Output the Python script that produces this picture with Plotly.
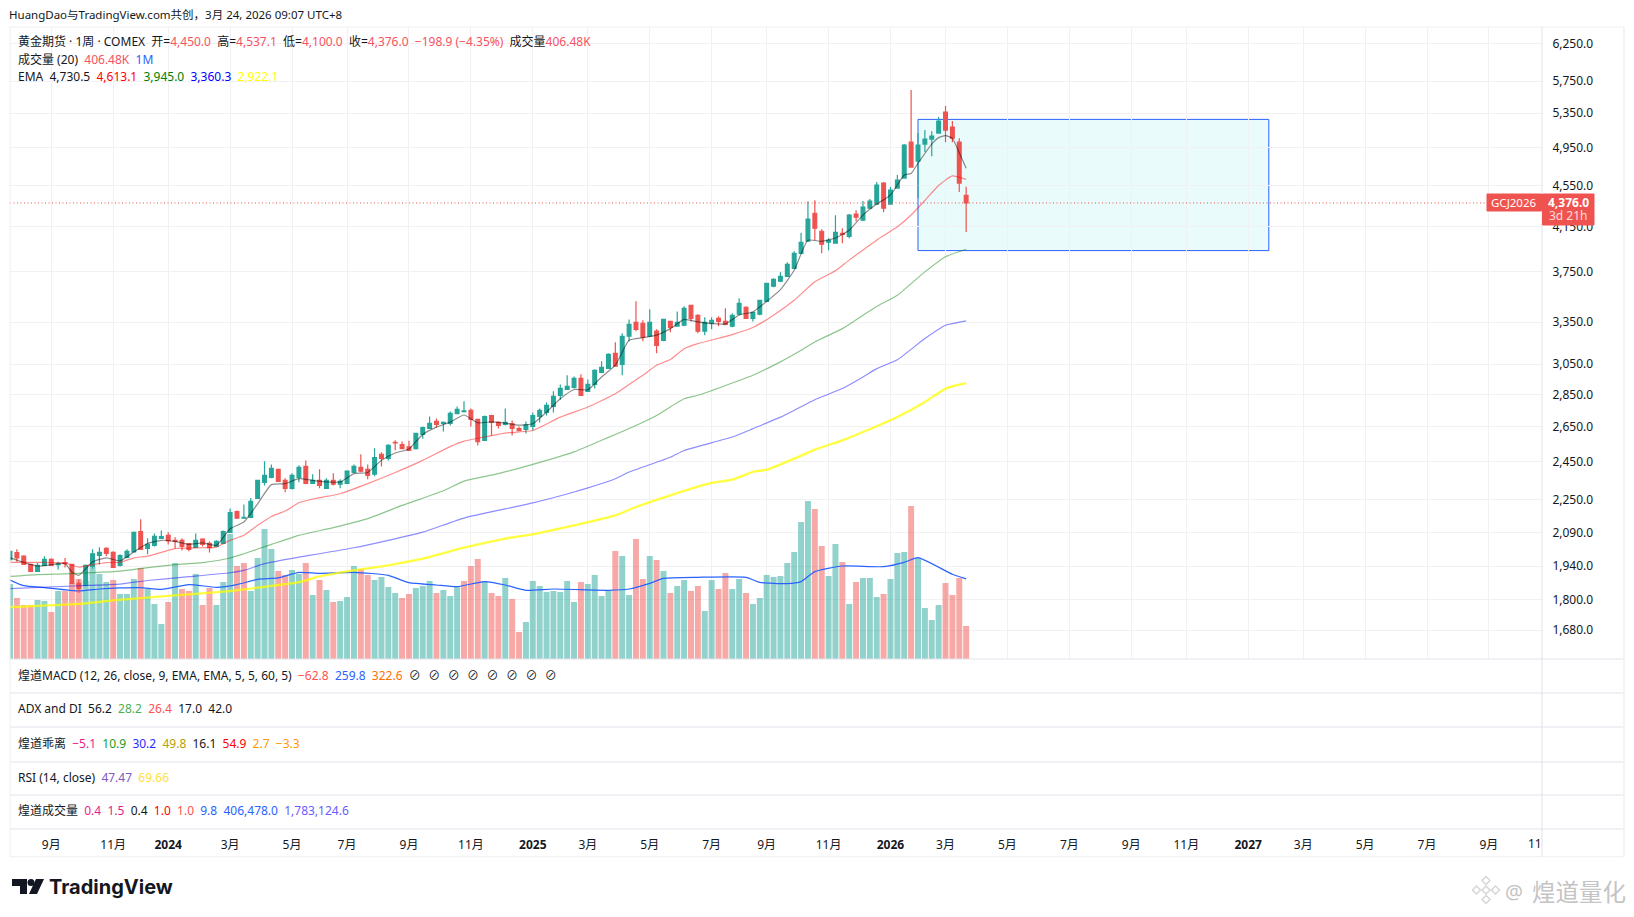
import pandas as pd
import plotly.graph_objects as go

W = 1634
H = 917
FONT = "Noto Sans, Noto Sans CJK SC, sans-serif"

dates = pd.date_range("2023-07-24", periods=140, freq="W-MON")

opens = [
    1968, 1999, 1983, 1947, 1917, 1943, 1969, 1946, 1955, 1947,
    1866, 1857, 1938, 1987, 2018, 2000, 1943, 1978, 2002, 2096,
    2018, 2032, 2064, 2078, 2055, 2055, 2040, 2023, 2060, 2041,
    2027, 2041, 2092, 2192, 2159, 2163, 2257, 2340, 2366, 2409,
    2350, 2309, 2366, 2425, 2335, 2350, 2309, 2350, 2330, 2335,
    2393, 2420, 2409, 2383, 2492, 2469, 2560, 2547, 2534, 2524,
    2605, 2640, 2682, 2670, 2670, 2729, 2741, 2749, 2694, 2570,
    2718, 2676, 2664, 2668, 2640, 2634, 2652, 2712, 2737, 2774,
    2843, 2881, 2894, 2954, 2869, 2914, 2994, 3021, 3124, 3048,
    3246, 3349, 3342, 3246, 3283, 3217, 3356, 3320, 3327, 3479,
    3402, 3283, 3342, 3379, 3356, 3320, 3410, 3464, 3379, 3410,
    3510, 3631, 3672, 3713, 3780, 3909, 4016, 4276, 4107, 4007,
    3998, 4088, 4061, 4268, 4211, 4325, 4365, 4575, 4365, 4524,
    4627, 5015, 4806, 4993, 5049, 5118, 5365, 5187, 5015, 4450,
]
highs = [
    2005, 2014, 1987, 1947, 1953, 1983, 1974, 1958, 1975, 1950,
    1882, 1947, 2014, 2023, 2023, 2005, 1992, 2014, 2096, 2154,
    2064, 2087, 2101, 2092, 2069, 2064, 2043, 2087, 2064, 2049,
    2055, 2101, 2207, 2197, 2227, 2259, 2354, 2453, 2436, 2409,
    2361, 2388, 2431, 2458, 2383, 2409, 2361, 2388, 2356, 2404,
    2436, 2492, 2436, 2525, 2503, 2548, 2572, 2564, 2568, 2613,
    2652, 2712, 2700, 2682, 2743, 2774, 2806, 2761, 2694, 2718,
    2722, 2682, 2761, 2688, 2652, 2682, 2737, 2761, 2799, 2869,
    2914, 2974, 2967, 2981, 2947, 3014, 3069, 3124, 3202, 3268,
    3371, 3510, 3364, 3448, 3297, 3371, 3356, 3432, 3472, 3479,
    3410, 3387, 3387, 3394, 3456, 3418, 3534, 3472, 3425, 3518,
    3655, 3696, 3746, 3831, 3927, 4093, 4393, 4403, 4125, 4043,
    4258, 4135, 4268, 4305, 4394, 4414, 4586, 4586, 4535, 4658,
    4993, 5636, 5118, 5152, 5140, 5305, 5438, 5257, 5060, 4537.1,
]
lows = [
    1962, 1958, 1947, 1917, 1917, 1943, 1943, 1925, 1933, 1864,
    1826, 1857, 1928, 1947, 1983, 1934, 1938, 1974, 2002, 2014,
    1992, 2027, 2064, 2036, 2018, 2009, 2005, 2023, 2027, 2000,
    2027, 2041, 2092, 2159, 2159, 2163, 2257, 2324, 2361, 2345,
    2288, 2303, 2340, 2330, 2335, 2309, 2309, 2324, 2309, 2335,
    2388, 2393, 2356, 2372, 2425, 2458, 2514, 2524, 2513, 2519,
    2580, 2640, 2646, 2622, 2658, 2725, 2737, 2652, 2542, 2570,
    2599, 2640, 2658, 2599, 2628, 2611, 2628, 2676, 2718, 2737,
    2816, 2881, 2888, 2843, 2869, 2888, 2994, 3021, 3035, 2974,
    3210, 3283, 3210, 3246, 3124, 3210, 3276, 3320, 3320, 3356,
    3268, 3254, 3297, 3320, 3327, 3312, 3402, 3379, 3356, 3402,
    3510, 3622, 3664, 3713, 3780, 3909, 4016, 4025, 3909, 3936,
    3998, 3998, 4043, 4200, 4202, 4325, 4365, 4287, 4365, 4524,
    4627, 4742, 4424, 4904, 4860, 5118, 5015, 5015, 4484, 4100,
]
closes = [
    2005, 1975, 1947, 1917, 1943, 1969, 1943, 1950, 1950, 1866,
    1845, 1943, 1994, 2000, 1996, 1934, 1986, 2005, 2092, 2014,
    2036, 2073, 2072, 2052, 2050, 2027, 2014, 2055, 2036, 2021,
    2050, 2096, 2187, 2159, 2163, 2242, 2350, 2377, 2415, 2345,
    2309, 2377, 2420, 2335, 2350, 2324, 2350, 2330, 2345, 2399,
    2425, 2399, 2377, 2474, 2469, 2542, 2556, 2524, 2513, 2611,
    2646, 2670, 2664, 2676, 2731, 2755, 2747, 2694, 2564, 2712,
    2676, 2658, 2676, 2640, 2628, 2662, 2718, 2749, 2780, 2837,
    2888, 2901, 2954, 2843, 2914, 3007, 3028, 3117, 3035, 3246,
    3334, 3297, 3239, 3349, 3181, 3371, 3312, 3349, 3456, 3379,
    3283, 3349, 3364, 3356, 3334, 3402, 3495, 3379, 3425, 3518,
    3655, 3688, 3713, 3814, 3909, 4007, 4220, 4135, 3990, 4025,
    4097, 4079, 4258, 4239, 4335, 4394, 4555, 4325, 4504, 4606,
    4982, 4742, 4982, 5049, 5084, 5257, 5152, 5060, 4575, 4376,
]
# volume in thousands
volumes = [
    923, 751, 664, 664, 726, 714, 578, 837, 837, 935,
    984, 960, 1132, 1046, 947, 972, 800, 800, 984, 1120,
    861, 677, 431, 701, 1181, 861, 837, 1046, 664, 874,
    664, 947, 1538, 1144, 1181, 837, 1243, 1599, 1353, 1083,
    1034, 1095, 1046, 1181, 787, 972, 849, 701, 714, 763,
    1144, 1107, 1034, 972, 1009, 886, 812, 751, 800, 874,
    898, 960, 812, 849, 775, 898, 960, 1144, 1230, 960,
    812, 775, 997, 738, 332, 455, 960, 898, 824, 837,
    824, 960, 701, 947, 923, 1034, 775, 849, 1329, 1267,
    787, 1476, 984, 1267, 1218, 1083, 812, 898, 972, 837,
    898, 591, 972, 861, 1058, 861, 984, 812, 677, 751,
    1034, 1009, 1021, 1181, 1316, 1685, 1944, 1845, 1390, 1021,
    1415, 1193, 677, 947, 997, 997, 763, 800, 984, 1304,
    1316, 1882, 1243, 628, 480, 664, 935, 787, 996, 406.48,
]
vol_dirs = (
    "grrrggrgrr" "rggggrgggr" "gggrgrrgrr" "gggrrggggr" "rggrgr"
    "grgg" "grrggggrrg" "ggrgggrrrg" "rrgrrggggg" "gggrggggrg"
    "grrgrgrggr" "rggrrggrgg" "gggggggrrg" "grgrgggrgg" "grggggrrrr"
)

ema1_bars = [0, 4, 8, 9, 10, 12, 14, 16, 18, 20, 22, 24, 26, 28, 30, 32, 34, 36, 38, 40, 42, 44, 46, 48, 50, 52, 54, 56,
             58, 60, 62, 64, 66, 68, 70, 72, 74, 76, 78, 80, 82, 84, 86, 88, 90, 92, 94, 96, 98, 100, 102, 104, 106, 108, 110,
             112, 114, 116, 118, 120, 122, 124, 126, 128, 130, 131, 132, 134, 135, 136, 137, 138, 139]
ema1 = [1976, 1940, 1950, 1914, 1900, 1958, 1976, 1962, 2002, 2040, 2055, 2050, 2036, 2043, 2032, 2109, 2141, 2230, 2328, 2333, 2359, 2350, 2342, 2342, 2386, 2392, 2458, 2499,
        2522, 2605, 2648, 2678, 2721, 2674, 2680, 2672, 2660, 2668, 2739, 2822, 2881, 2879, 2963, 3042, 3217, 3236, 3254, 3302, 3371, 3352, 3339, 3337, 3405, 3428, 3510,
        3604, 3763, 4025, 4016, 4046, 4116, 4258, 4365, 4454, 4658, 4675, 4783, 4993, 5066, 5089, 5057, 4897, 4730.5]

ema2_bars = [0, 4, 8, 10, 12, 14, 16, 18, 20, 24, 28, 30, 32, 34, 36, 38, 40, 42, 44, 48, 52, 56, 60, 64, 66, 68, 72, 76, 80, 84, 88, 90, 92, 94, 96, 98, 100,
             105, 108, 111, 114, 117, 120, 122, 126, 129, 131, 133, 135, 137, 139]
ema2 = [1956, 1956, 1953, 1935, 1946, 1955, 1956, 1976, 1983, 2017, 2021, 2024, 2055, 2078, 2125, 2168, 2194, 2235, 2254, 2281, 2333, 2392, 2458, 2535, 2566, 2583, 2613, 2628, 2708, 2770, 2854, 2914, 2974, 3042, 3081, 3157, 3193,
        3258, 3310, 3403, 3519, 3667, 3759, 3850, 4026, 4148, 4260, 4400, 4550, 4650, 4613.1]

ema3_bars = [0, 4, 8, 12, 16, 20, 24, 28, 32, 34, 38, 42, 47, 52, 57, 63, 66, 71, 76, 82, 86, 88, 91, 94, 98, 100, 108, 112, 115, 117, 121, 124, 126, 129, 133, 136, 139]
ema3 = [1895, 1903, 1906, 1911, 1918, 1933, 1946, 1955, 1975, 1994, 2036, 2078, 2114, 2157, 2222, 2296, 2346, 2386, 2436, 2505, 2571, 2605, 2658, 2718, 2822, 2844, 2975, 3065, 3146, 3205, 3302, 3403, 3470, 3559, 3750, 3879, 3945]

ema4_bars = [0, 10, 16, 20, 26, 32, 34, 37, 42, 45, 50, 55, 60, 66, 72, 76, 82, 88, 90, 96, 98, 105, 108, 112, 114, 117, 121, 124, 126, 129, 133, 136, 139]
ema4 = [1844, 1856, 1863, 1878, 1894, 1911, 1921, 1950, 1979, 1994, 2021, 2055, 2093, 2160, 2205, 2235, 2290, 2359, 2395, 2475, 2513, 2590, 2639, 2708, 2750, 2816, 2887, 2963, 3019, 3080, 3229, 3327, 3360.3]

ema5_bars = [0, 10, 15, 23, 32, 36, 42, 45, 50, 55, 60, 66, 72, 76, 82, 88, 91, 96, 102, 105, 108, 110, 115, 117, 121, 124, 129, 133, 136, 139]
ema5 = [1769, 1782, 1796, 1814, 1834, 1848, 1871, 1895, 1921, 1943, 1972, 2021, 2063, 2083, 2125, 2173, 2214, 2273, 2337, 2354, 2395, 2407, 2484, 2518, 2571, 2619, 2709, 2802, 2887, 2922.1]

vol_ma_bars = [0, 2, 5, 10, 13, 16, 19, 22, 26, 30, 33, 36, 39, 42, 45, 50, 55, 58, 62, 65, 69, 72, 75, 79, 87, 90, 93, 95, 100, 107, 109, 113, 115, 117, 121, 127, 130, 132, 137, 139]
vol_ma = [972, 902, 878, 837, 861, 874, 878, 857, 915, 882, 915, 980, 997, 1066, 1054, 1066, 1029, 939, 910, 890, 952, 910, 845, 861, 845, 861, 931, 992, 1005, 1005, 943, 927, 952, 1075, 1144, 1136, 1189, 1247, 1042, 985]

price_ticks = [6250, 5750, 5350, 4950, 4550, 4150, 3750, 3350, 3050, 2850, 2650, 2450, 2250, 2090, 1940, 1800, 1680]
price_labels = [f"{p:,.1f}" for p in price_ticks]

time_ticks = [
    "2023-09-04", "2023-11-06", "2024-01-01", "2024-03-04", "2024-05-06", "2024-07-01", "2024-09-02", "2024-11-04",
    "2025-01-06", "2025-03-03", "2025-05-05", "2025-07-07", "2025-09-01", "2025-11-03", "2026-01-05", "2026-03-02",
    "2026-05-04", "2026-07-06", "2026-09-07", "2026-11-02", "2027-01-04", "2027-03-01", "2027-05-03", "2027-07-05", "2027-09-06",
]
time_labels = [
    "9月", "11月", "<b>2024</b>", "3月", "5月", "7月", "9月", "11月",
    "<b>2025</b>", "3月", "5月", "7月", "9月", "11月", "<b>2026</b>", "3月",
    "5月", "7月", "9月", "11月", "<b>2027</b>", "3月", "5月", "7月", "9月",
]

GREEN = "#26a69a"
RED = "#ef5350"
GRID = "#f1f1f3"
PANE = "#e0e3eb"
LAST_PRICE = closes[-1]


def fx(x):
    return x / W


def fy(y):
    return 1 - y / H


def hline(y, x0=10, x1=1624, color=PANE):
    return dict(type="line", xref="paper", yref="paper", x0=fx(x0), x1=fx(x1), y0=fy(y), y1=fy(y),
                line=dict(color=color, width=1), layer="above")


def box(x0, y0, x1, y1, fill, line_color=None):
    return dict(type="rect", xref="paper", yref="paper", x0=fx(x0), x1=fx(x1), y0=fy(y0), y1=fy(y1),
                fillcolor=fill, line=dict(color=line_color or fill, width=1), layer="above")


def poly(points, fill, line_color=None, width=0):
    path = "M " + " L ".join(f"{fx(x):.5f},{fy(y):.5f}" for x, y in points) + " Z"
    return dict(type="path", xref="paper", yref="paper", path=path, fillcolor=fill,
                line=dict(color=line_color or fill, width=width), layer="above")


def diamond(cx, cy, r):
    return poly([(cx, cy - r), (cx + r, cy), (cx, cy + r), (cx - r, cy)], "rgba(0,0,0,0)", "#d6d6d6", 1.5)


def label(x, y, text, size=12, color="#131722", anchor="left", family=FONT):
    return dict(xref="paper", yref="paper", x=fx(x), y=fy(y), text=text, showarrow=False, xanchor=anchor,
                yanchor="middle", align="left", font=dict(family=family, size=size, color=color),
                borderpad=0, borderwidth=0)


def c(text, color):
    return f'<span style="color:{color}">{text}</span>'


SEP = "\u00a0\u00a0"
ohlc = "#f7525f"

rows = [
    (41.7, "黄金期货 · 1周 · COMEX" + SEP + "开=" + c("4,450.0", ohlc) + SEP + "高=" + c("4,537.1", ohlc) + SEP + "低=" + c("4,100.0", ohlc)
     + SEP + "收=" + c("4,376.0", ohlc) + SEP + c("−198.9 (−4.35%)", ohlc) + SEP + "成交量" + c("406.48K", ohlc)),
    (59.4, "成交量 (20)" + SEP + c("406.48K", ohlc) + SEP + c("1M", "#2962ff")),
    (76, "EMA" + SEP + "4,730.5" + SEP + c("4,613.1", "#ff0000") + SEP + c("3,945.0", "#008000") + SEP + c("3,360.3", "#0000ff") + SEP + c("2,922.1", "#ffff00")),
    (675, "煌道MACD (12, 26, close, 9, EMA, EMA, 5, 5, 60, 5)" + SEP + c("−62.8", "#ff5252") + SEP + c("259.8", "#2962ff") + SEP + c("322.6", "#ff6d00") + SEP
     + "\u00a0\u00a0\u200a".join(["⊘"] * 8)),
    (708.6, "ADX and DI" + SEP + "56.2" + SEP + c("28.2", "#4caf50") + SEP + c("26.4", "#ff5252") + SEP + "17.0" + SEP + "42.0"),
    (743, "煌道乖离" + SEP + c("−5.1", "#e91e8c") + SEP + c("10.9", "#1b9e1b") + SEP + c("30.2", "#2a2aff") + SEP + c("49.8", "#b8a000") + SEP + "16.1" + SEP
     + c("54.9", "#ff0000") + SEP + c("2.7", "#ff9800") + SEP + c("−3.3", "#ff9800")),
    (777, "RSI (14, close)" + SEP + c("47.47", "#7e57c2") + SEP + c("69.66", "#ffe03b")),
    (810.7, "煌道成交量" + SEP + c("0.4", "#e91e8c") + SEP + c("1.5", "#d81e8c") + SEP + "0.4" + SEP + c("1.0", "#ff0000") + SEP + c("1.0", "#ff5252") + SEP
     + c("9.8", "#2962ff") + SEP + c("406,478.0", "#2962ff") + SEP + c("1,783,124.6", "#6a5cff")),
]

annotations = [label(9, 14.6, "HuangDao与TradingView.com共创，3月 24, 2026 09:07 UTC+8", size=11.5)]
annotations += [label(17.7, y, text) for y, text in rows]
annotations += [
    label(1542, 843, "11", anchor="right"),
    label(1514, 202.5, "GCJ2026", size=11.5, color="white", anchor="center"),
    label(1568, 202, "<b>4,376.0</b>", size=12, color="white", anchor="center"),
    label(1568, 216, "3d 21h", size=12, color="#fcdcdc", anchor="center"),
    label(49, 887, "<b>TradingView</b>", size=20, family="Inter, Noto Sans, sans-serif"),
    label(1505, 891, "@", size=20, color="#c4c4c4"),
    label(1532, 892, "煌道量化", size=23.5, color="#c4c4c4"),
]

shapes = [
    # drawing from the chart: box over the last leg
    dict(type="rect", xref="x", yref="y2", x0="2026-02-02", x1="2027-01-25", y0=3933, y1=5277,
         fillcolor="rgba(130,230,235,0.17)", line=dict(color="#2962ff", width=1), layer="below"),
    # last price line
    dict(type="line", xref="paper", yref="y2", x0=fx(10), x1=fx(1487), y0=LAST_PRICE, y1=LAST_PRICE,
         line=dict(color=RED, width=1, dash="1px,2.5px"), layer="above"),
    hline(27, color="#f0f0f0"),
    hline(659),
    hline(693),
    hline(727),
    hline(762),
    hline(795),
    hline(829),
    hline(856.7, color="#f0f0f0"),
    dict(type="line", xref="paper", yref="paper", x0=fx(10), x1=fx(10), y0=fy(27), y1=fy(857), line=dict(color="#f0f0f0", width=1), layer="above"),
    dict(type="line", xref="paper", yref="paper", x0=fx(1624), x1=fx(1624), y0=fy(27), y1=fy(857), line=dict(color="#f0f0f0", width=1.5), layer="above"),
    dict(type="line", xref="paper", yref="paper", x0=fx(1542), x1=fx(1542), y0=fy(27), y1=fy(857), line=dict(color=PANE, width=1), layer="above"),
    box(1487, 194, 1541.5, 211, RED),
    box(1542.5, 194, 1594, 225, RED),
    # TradingView mark
    poly([(12, 879), (27, 879), (27, 894), (20, 894), (20, 886), (12, 886)], "#131722"),
    poly([(36, 879), (44, 879), (37, 894), (29, 894)], "#131722"),
    dict(type="circle", xref="paper", yref="paper", x0=fx(27.5), x1=fx(34.5), y0=fy(879), y1=fy(886),
         fillcolor="#131722", line=dict(width=0), layer="above"),
    # watermark mark
    diamond(1486, 880.5, 4),
    diamond(1476.5, 890, 4),
    diamond(1495.5, 890, 4),
    diamond(1486, 899.5, 4),
    diamond(1486, 890, 4),
]

fig = go.Figure()

fig.add_trace(go.Bar(
    x=dates, y=volumes, yaxis="y", xaxis="x",
    marker=dict(color=["rgba(38,166,154,0.5)" if d == "g" else "rgba(239,83,80,0.5)" for d in vol_dirs], line=dict(width=0)),
))
fig.add_trace(go.Scatter(x=dates[vol_ma_bars], y=vol_ma, mode="lines", yaxis="y",
                         line=dict(color="#2962ff", width=1.2, shape="spline", smoothing=0.5)))

fig.add_trace(go.Candlestick(
    x=dates, open=opens, high=highs, low=lows, close=closes, yaxis="y2",
    whiskerwidth=0,
    increasing=dict(line=dict(color=GREEN, width=1.2), fillcolor=GREEN),
    decreasing=dict(line=dict(color=RED, width=1.2), fillcolor=RED),
))
for bars, values, color, width in [
    (ema1_bars, ema1, "rgba(0,0,0,0.45)", 1.2),
    (ema2_bars, ema2, "rgba(255,0,0,0.45)", 1.2),
    (ema3_bars, ema3, "rgba(0,128,0,0.45)", 1.2),
    (ema4_bars, ema4, "rgba(0,0,255,0.45)", 1.2),
    (ema5_bars, ema5, "rgba(255,255,0,0.75)", 2.3),
]:
    fig.add_trace(go.Scatter(x=dates[bars], y=values, mode="lines", yaxis="y2",
                             line=dict(color=color, width=width, shape="spline", smoothing=0.5)))

fig.update_layout(
    width=W,
    height=H,
    margin=dict(l=0, r=0, t=0, b=0),
    paper_bgcolor="white",
    plot_bgcolor="white",
    showlegend=False,
    hovermode=False,
    bargap=0.13,
    boxgap=0.22,
    font=dict(family=FONT, size=12, color="#131722"),
    xaxis=dict(
        domain=[fx(10), fx(1542)],
        type="date",
        range=["2023-07-24", "2027-10-30"],
        anchor="free",
        position=fy(829),
        rangeslider=dict(visible=False),
        tickmode="array",
        tickvals=time_ticks,
        ticktext=time_labels,
        ticks="outside",
        ticklen=5,
        tickcolor="rgba(0,0,0,0)",
        showgrid=True,
        gridcolor=GRID,
        gridwidth=1,
        zeroline=False,
        showline=False,
    ),
    yaxis=dict(
        domain=[fy(659), fy(27)],
        range=[0, 7774],
        visible=False,
        showgrid=False,
    ),
    yaxis2=dict(
        domain=[fy(659), fy(27)],
        overlaying="y",
        side="right",
        anchor="x",
        type="log",
        range=[3.1973, 3.8123],
        tickmode="array",
        tickvals=price_ticks,
        ticktext=price_labels,
        ticks="outside",
        ticklen=7,
        tickcolor="rgba(0,0,0,0)",
        showgrid=True,
        gridcolor=GRID,
        gridwidth=1,
        zeroline=False,
        showline=False,
    ),
    shapes=shapes,
    annotations=annotations,
)

fig.write_html("out.html", config={"displayModeBar": False}, post_script="document.body.style.margin = '0';")
